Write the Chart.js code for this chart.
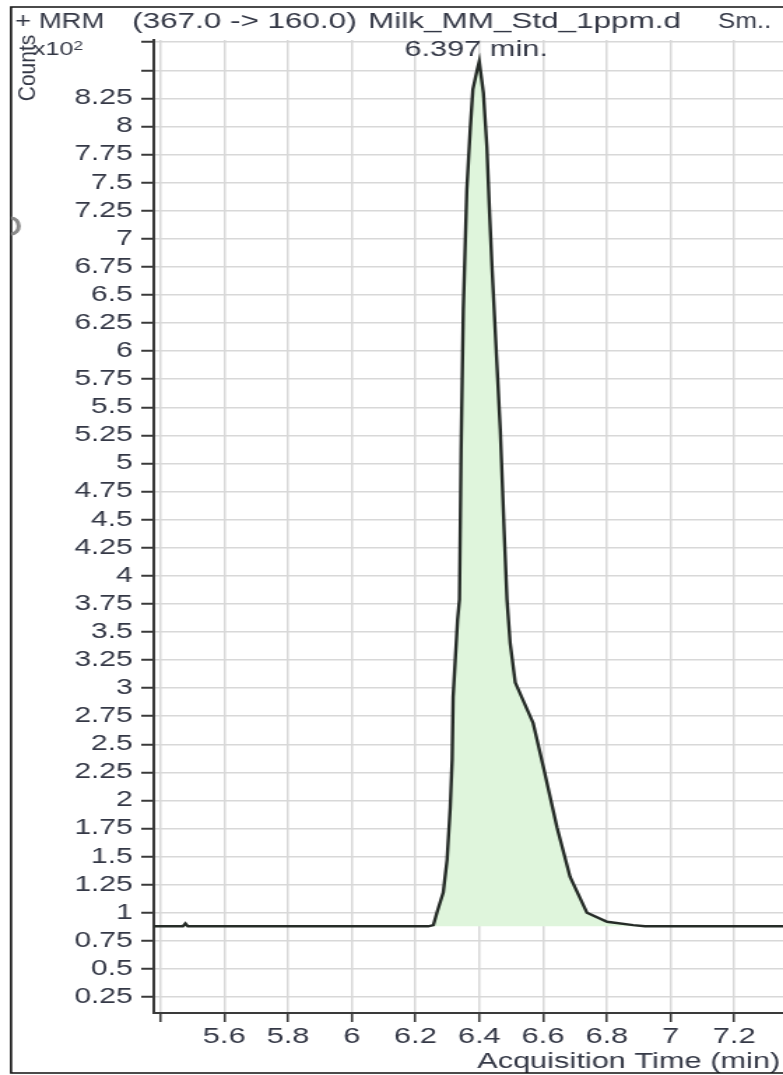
<!DOCTYPE html>
<html>
<head>
<meta charset="utf-8">
<script src="https://cdn.jsdelivr.net/npm/chart.js@4.4.1/dist/chart.umd.min.js"></script>
<style>
  html, body { margin: 0; padding: 0; background: #fff; overflow: hidden; }
  /* the source screenshot is stretched sideways, so draw narrow and widen */
  #wrap { width: 560px; height: 1075px; transform: scaleX(1.3982); transform-origin: 0 0; }
</style>
</head>
<body>
<div id="wrap"><canvas id="chrom" width="560" height="1075"></canvas></div>
<script>
// Acquisition time (min) and counts (x10^2)
const times = [5.38, 5.47, 5.478, 5.486,
  6.24, 6.256, 6.268, 6.287, 6.299, 6.309, 6.315, 6.318, 6.332, 6.338, 6.343, 6.35, 6.361, 6.372, 6.38, 6.393, 6.4,
  6.413, 6.424, 6.431, 6.44, 6.45, 6.466, 6.478, 6.487, 6.497, 6.513, 6.569, 6.601, 6.644, 6.685, 6.738, 6.801, 6.883, 6.92,
  7.36];
const counts = [0.88, 0.88, 0.905, 0.88,
  0.88, 0.89, 1.01, 1.18, 1.47, 1.94, 2.36, 2.92, 3.61, 3.79, 5.12, 6.37, 7.44, 7.99, 8.33, 8.50, 8.58,
  8.30, 7.82, 7.32, 6.75, 6.19, 5.30, 4.41, 3.79, 3.40, 3.05, 2.69, 2.30, 1.76, 1.32, 1.00, 0.92, 0.89, 0.88,
  0.88];
const BASELINE = 0.88;
const PEAK_TIME = 6.397;

// title pieces: [text, x, squeeze width (0 = natural)]
const TITLE_PARTS = [
    ['+ MRM', 10.7, 64],
    ['(367.0 -> 160.0)', 94.4, 0],
    ['Milk_MM_Std_1ppm.d', 263.2, 0],
    ['Sm..', 513.6, 38]
];
const PEAK_LABEL = PEAK_TIME + ' min.';
const X_TITLE = 'Acquisition Time (min)';
const Y_TITLE = 'Counts';

const FONT = "'Liberation Sans', Arial, sans-serif";
const TEXT_COLOR = '#343846';
const AXIS_COLOR = '#3a3a3a';
const GRID_COLOR = '#d8d8d8';

function fmt(v) { return String(Number(v.toFixed(2))); }

// extra text + frame, drawn over the chart
const decorPlugin = {
    id: 'decor',
    afterDraw(chart) {
        const ctx = chart.ctx;
        const xs = chart.scales.x;
        ctx.save();
        ctx.fillStyle = TEXT_COLOR;
        ctx.textBaseline = 'alphabetic';

        ctx.font = `22.5px ${FONT}`;
        ctx.textAlign = 'left';
        TITLE_PARTS.forEach(([txt, x, w]) => {
            if (w) ctx.fillText(txt, x, 28, w);
            else ctx.fillText(txt, x, 28);
        });

        // peak annotation
        ctx.font = `22px ${FONT}`;
        ctx.textAlign = 'center';
        ctx.fillText(PEAK_LABEL, xs.getPixelForValue(PEAK_TIME) - 1.5, 56);

        // x axis title (cut at the right edge in the original)
        ctx.textAlign = 'right';
        ctx.fillText(X_TITLE, 558, 1068);

        // "x10²"
        ctx.textAlign = 'left';
        ctx.font = `18px ${FONT}`;
        ctx.fillText('x10', 23.6, 55);
        ctx.font = `12.5px ${FONT}`;
        ctx.fillText('2', 52.6, 50);

        // rotated, condensed "Counts"
        ctx.save();
        ctx.translate(25.2, 68);
        ctx.rotate(-Math.PI / 2);
        ctx.scale(1, 0.76);
        ctx.font = `21px ${FONT}`;
        ctx.textAlign = 'center';
        ctx.fillText(Y_TITLE, 0, 0);
        ctx.restore();

        // frame of the screenshot
        ctx.strokeStyle = '#111';
        ctx.lineWidth = 1.6;
        ctx.beginPath();
        ctx.moveTo(560, 7);
        ctx.lineTo(7.9, 7);
        ctx.lineTo(7.9, 1073);
        ctx.lineTo(560, 1073);
        ctx.stroke();

        // little grey mark on the left edge
        ctx.strokeStyle = '#8a8a8a';
        ctx.lineWidth = 3;
        ctx.beginPath();
        ctx.ellipse(7.9, 226, 5.5, 8, 0, -Math.PI / 2, Math.PI / 2);
        ctx.stroke();
        ctx.restore();
    }
};

const points = times.map((t, i) => ({ x: t, y: counts[i] }));

new Chart(document.getElementById('chrom'), {
    type: 'line',
    data: {
        datasets: [{
            data: points,
            borderColor: '#262c28',
            borderWidth: 2.4,
            backgroundColor: '#dff5dc',
            fill: { value: BASELINE },
            pointRadius: 0,
            tension: 0
        }]
    },
    options: {
        responsive: false,
        animation: false,
        devicePixelRatio: 1,
        layout: { padding: { top: 40, left: 0, right: 0, bottom: 0 } },
        plugins: { legend: { display: false }, tooltip: { enabled: false } },
        scales: {
            x: {
                type: 'linear',
                min: 5.379,
                max: 7.353,
                afterFit: (scale) => { scale.height = 62; },
                border: { color: AXIS_COLOR, width: 2 },
                grid: { color: GRID_COLOR, lineWidth: 1.5, tickColor: AXIS_COLOR, tickWidth: 1.6, tickLength: 9 },
                ticks: {
                    stepSize: 0.2,
                    includeBounds: false,
                    autoSkip: false,
                    maxRotation: 0,
                    padding: 2,
                    color: TEXT_COLOR,
                    font: { family: FONT, size: 22 },
                    callback: (v) => (v < 5.5 ? '' : fmt(v))
                }
            },
            y: {
                min: 0.108,
                max: 8.77,
                afterFit: (scale) => { scale.width = 110; },
                border: { color: AXIS_COLOR, width: 2 },
                grid: { color: GRID_COLOR, lineWidth: 1.5, tickColor: AXIS_COLOR, tickWidth: 2, tickLength: 9 },
                ticks: {
                    stepSize: 0.25,
                    includeBounds: false,
                    autoSkip: false,
                    padding: 6,
                    color: TEXT_COLOR,
                    font: { family: FONT, size: 21.5 },
                    callback: (v) => (v > 8.3 ? '' : fmt(v))
                }
            }
        }
    },
    plugins: [decorPlugin]
});
</script>
</body>
</html>
